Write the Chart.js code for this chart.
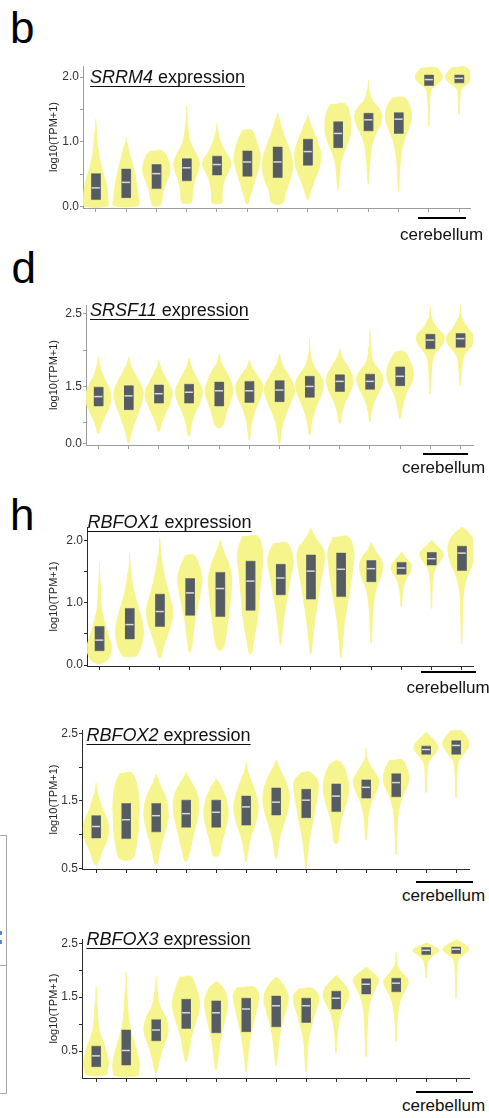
<!DOCTYPE html>
<html>
<head>
<meta charset="utf-8">
<title>Splicing regulator expression across tissues</title>
<script src="https://cdn.jsdelivr.net/npm/chart.js@4.4.1/dist/chart.umd.min.js"></script>
<style>
  html, body { margin: 0; padding: 0; background: #fff; }
  body { position: relative; width: 489px; height: 1118px; overflow: hidden;
         font-family: "Liberation Sans", Arial, sans-serif; color: #111; }
  .txt { position: absolute; white-space: nowrap; line-height: 1; }
  .letter { font-size: 44px; color: #000; }
  .gene-title { font-size: 18px; color: #111; text-decoration: underline;
                text-decoration-thickness: 1px; text-underline-offset: 3px;
                text-decoration-skip-ink: none; }
  .region { font-size: 17px; color: #111; }
  .bar { position: absolute; height: 2px; background: #000; }
  canvas { position: absolute; }
  .frame { position: absolute; border: 1px solid #a9a9a9; }
  .rule { position: absolute; height: 1px; background: #a9a9a9; }
  .dot { position: absolute; width: 3px; height: 4px; background: #4b87cf; border-radius: 1px; }
</style>
</head>
<body>
<script>
// ---------------------------------------------------------------
// Data: 13 tissue groups per gene (the last two are cerebellum).
// Box = interquartile range, line = median, violin = density
// outline given as [value, half-width in category units] knots
// from the top of the violin to its bottom.
// ---------------------------------------------------------------
const tissueGroups = ['T1','T2','T3','T4','T5','T6','T7','T8','T9','T10','T11','Cerebellum A','Cerebellum B'];

// SRRM4
const srrm4Q1     = [0.11, 0.14, 0.28, 0.40, 0.49, 0.47, 0.45, 0.64, 0.91, 1.17, 1.13, 1.87, 1.91];
const srrm4Median = [0.29, 0.375, 0.51, 0.60, 0.65, 0.69, 0.69, 0.85, 1.13, 1.34, 1.35, 1.96, 1.98];
const srrm4Q3     = [0.51, 0.58, 0.65, 0.74, 0.78, 0.86, 0.92, 1.04, 1.31, 1.44, 1.45, 2.03, 2.03];
const srrm4Violins = [
  [[1.35,0],[1.15,0.03],[0.95,0.06],[0.8,0.1],[0.63,0.18],[0.45,0.29],[0.3,0.37],[0.12,0.4],[0.01,0.38]],
  [[1.06,0],[0.95,0.05],[0.83,0.11],[0.68,0.2],[0.52,0.28],[0.32,0.36],[0.12,0.41],[0.02,0.4]],
  [[0.87,0],[0.86,0.2],[0.78,0.34],[0.62,0.44],[0.5,0.43],[0.38,0.33],[0.22,0.22],[0.08,0.17],[0.02,0.12]],
  [[1.56,0],[1.3,0.03],[1.1,0.07],[0.95,0.16],[0.83,0.3],[0.68,0.42],[0.55,0.38],[0.4,0.27],[0.25,0.2],[0.1,0.18],[0.06,0.14]],
  [[1.29,0],[1.15,0.04],[1.0,0.12],[0.85,0.27],[0.7,0.46],[0.6,0.44],[0.47,0.3],[0.32,0.2],[0.15,0.17],[0.06,0.16]],
  [[1.19,0],[1.18,0.15],[1.05,0.28],[0.9,0.38],[0.75,0.43],[0.6,0.38],[0.4,0.25],[0.2,0.12],[0.04,0]],
  [[1.45,0],[1.35,0.06],[1.2,0.15],[1.0,0.3],[0.8,0.45],[0.62,0.5],[0.42,0.42],[0.22,0.26],[0.06,0.18]],
  [[1.42,0],[1.3,0.08],[1.1,0.25],[0.9,0.4],[0.78,0.43],[0.6,0.38],[0.4,0.22],[0.2,0.07],[0.11,0]],
  [[1.59,0],[1.58,0.25],[1.45,0.38],[1.25,0.43],[1.1,0.4],[0.9,0.25],[0.7,0.1],[0.5,0.05],[0.27,0]],
  [[1.96,0],[1.8,0.03],[1.65,0.12],[1.52,0.35],[1.4,0.45],[1.25,0.38],[1.1,0.22],[0.9,0.1],[0.6,0.04],[0.35,0]],
  [[1.69,0],[1.68,0.2],[1.55,0.37],[1.4,0.43],[1.25,0.37],[1.05,0.2],[0.8,0.08],[0.5,0.03],[0.23,0]],
  [[2.15,0],[2.14,0.25],[2.06,0.4],[1.98,0.44],[1.9,0.3],[1.82,0.1],[1.7,0.04],[1.5,0.02],[1.24,0]],
  [[2.16,0],[2.15,0.22],[2.06,0.4],[1.98,0.44],[1.9,0.28],[1.82,0.08],[1.7,0.03],[1.42,0]]
];
const srrm4Ticks      = [0, 0.5, 1, 1.5, 2];
const srrm4TickLabels = ['0.0', '', '1.0', '', '2.0'];

// SRSF11
const srsf11Q1     = [1.23, 1.18, 1.27, 1.27, 1.23, 1.28, 1.29, 1.35, 1.43, 1.46, 1.51, 2.02, 2.04];
const srsf11Median = [1.36, 1.37, 1.40, 1.42, 1.44, 1.44, 1.45, 1.50, 1.57, 1.57, 1.64, 2.14, 2.16];
const srsf11Q3     = [1.49, 1.51, 1.52, 1.53, 1.56, 1.57, 1.58, 1.64, 1.66, 1.67, 1.77, 2.22, 2.23];
const srsf11Violins = [
  [[1.91,0],[1.78,0.05],[1.65,0.15],[1.5,0.33],[1.36,0.41],[1.22,0.36],[1.08,0.2],[0.95,0.08],[0.85,0]],
  [[1.91,0],[1.78,0.08],[1.62,0.28],[1.45,0.47],[1.3,0.45],[1.15,0.33],[1.0,0.2],[0.85,0.08],[0.71,0]],
  [[1.86,0],[1.75,0.07],[1.6,0.25],[1.43,0.44],[1.3,0.4],[1.15,0.25],[1.0,0.1],[0.88,0]],
  [[1.9,0],[1.75,0.1],[1.6,0.28],[1.45,0.44],[1.3,0.38],[1.15,0.22],[1.0,0.1],[0.81,0]],
  [[1.96,0],[1.82,0.08],[1.65,0.3],[1.45,0.46],[1.3,0.38],[1.15,0.25],[1.02,0.17],[0.95,0.1],[0.93,0]],
  [[1.87,0],[1.75,0.1],[1.6,0.35],[1.5,0.44],[1.35,0.38],[1.2,0.22],[1.0,0.08],[0.76,0]],
  [[1.95,0],[1.8,0.1],[1.62,0.35],[1.47,0.5],[1.3,0.4],[1.1,0.2],[0.9,0.07],[0.71,0]],
  [[2.16,0],[1.95,0.03],[1.8,0.12],[1.65,0.35],[1.54,0.46],[1.4,0.4],[1.2,0.2],[1.0,0.07],[0.83,0]],
  [[2.03,0],[1.9,0.08],[1.75,0.3],[1.6,0.44],[1.45,0.37],[1.3,0.2],[1.15,0.08],[0.99,0]],
  [[2.28,0],[2.05,0.03],[1.85,0.1],[1.7,0.35],[1.6,0.44],[1.47,0.35],[1.3,0.15],[1.15,0.05],[1.01,0]],
  [[1.99,0],[1.98,0.15],[1.85,0.33],[1.7,0.44],[1.55,0.38],[1.4,0.2],[1.2,0.07],[1.06,0]],
  [[2.6,0],[2.45,0.04],[2.32,0.2],[2.2,0.45],[2.1,0.42],[2.0,0.25],[1.9,0.1],[1.7,0.04],[1.4,0]],
  [[2.62,0],[2.45,0.05],[2.3,0.25],[2.18,0.46],[2.08,0.4],[2.0,0.25],[1.9,0.1],[1.7,0.04],[1.51,0]]
];
const srsf11Ticks      = [0.71, 1, 1.5, 2, 2.5];
const srsf11TickLabels = ['0.0', '', '1.5', '', '2.5'];

// RBFOX1
const rbfox1Q1     = [0.23, 0.42, 0.62, 0.80, 0.78, 0.88, 1.13, 1.06, 1.10, 1.34, 1.46, 1.61, 1.52];
const rbfox1Median = [0.40, 0.65, 0.86, 1.16, 1.23, 1.35, 1.40, 1.51, 1.54, 1.55, 1.56, 1.71, 1.80];
const rbfox1Q3     = [0.62, 0.91, 1.14, 1.39, 1.49, 1.67, 1.62, 1.77, 1.80, 1.68, 1.65, 1.81, 1.91];
const rbfox1Violins = [
  [[1.65,0],[1.3,0.03],[0.95,0.06],[0.75,0.14],[0.6,0.22],[0.42,0.34],[0.28,0.4],[0.12,0.33],[0.04,0.15],[0.02,0]],
  [[1.8,0],[1.5,0.04],[1.2,0.14],[0.95,0.28],[0.7,0.42],[0.5,0.46],[0.3,0.38],[0.17,0.26],[0.14,0.2]],
  [[2.05,0],[1.75,0.05],[1.45,0.15],[1.15,0.3],[0.9,0.43],[0.7,0.4],[0.5,0.27],[0.3,0.13],[0.11,0]],
  [[1.78,0],[1.76,0.15],[1.6,0.3],[1.4,0.4],[1.2,0.36],[0.95,0.26],[0.7,0.16],[0.45,0.1],[0.2,0]],
  [[2.01,0],[1.85,0.1],[1.6,0.3],[1.4,0.38],[1.1,0.35],[0.8,0.28],[0.5,0.2],[0.3,0.12],[0.24,0]],
  [[2.08,0],[2.07,0.25],[1.9,0.38],[1.72,0.42],[1.45,0.37],[1.1,0.3],[0.8,0.25],[0.5,0.15],[0.17,0]],
  [[1.97,0],[1.96,0.22],[1.8,0.38],[1.65,0.42],[1.45,0.35],[1.2,0.26],[0.9,0.15],[0.6,0.07],[0.33,0]],
  [[2.2,0],[2.05,0.15],[1.85,0.42],[1.65,0.44],[1.35,0.33],[1.0,0.22],[0.7,0.13],[0.4,0.06],[0.18,0]],
  [[2.07,0],[2.06,0.25],[1.85,0.42],[1.6,0.4],[1.3,0.32],[1.0,0.22],[0.7,0.12],[0.4,0.06],[0.12,0]],
  [[1.98,0],[1.85,0.12],[1.7,0.33],[1.55,0.38],[1.4,0.3],[1.2,0.15],[0.9,0.06],[0.6,0.03],[0.35,0]],
  [[1.82,0],[1.72,0.15],[1.6,0.33],[1.5,0.3],[1.38,0.15],[1.2,0.05],[0.94,0]],
  [[2.01,0],[1.92,0.17],[1.8,0.38],[1.68,0.3],[1.55,0.12],[1.35,0.04],[0.91,0]],
  [[2.22,0],[2.15,0.18],[2.0,0.4],[1.82,0.45],[1.62,0.35],[1.45,0.2],[1.2,0.07],[0.8,0.03],[0.34,0]]
];
const rbfox1Ticks      = [0, 0.5, 1, 1.5, 2];
const rbfox1TickLabels = ['0.0', '', '1.0', '', '2.0'];

// RBFOX2
const rbfox2Q1     = [0.95, 0.94, 1.04, 1.11, 1.11, 1.14, 1.29, 1.25, 1.34, 1.54, 1.56, 2.19, 2.19];
const rbfox2Median = [1.12, 1.22, 1.28, 1.31, 1.33, 1.41, 1.48, 1.51, 1.57, 1.70, 1.77, 2.26, 2.32];
const rbfox2Q3     = [1.28, 1.46, 1.46, 1.51, 1.51, 1.57, 1.69, 1.67, 1.75, 1.81, 1.90, 2.31, 2.39];
const rbfox2Violins = [
  [[1.77,0],[1.6,0.06],[1.4,0.2],[1.2,0.38],[1.05,0.42],[0.9,0.35],[0.75,0.2],[0.6,0.08],[0.55,0]],
  [[1.92,0],[1.91,0.2],[1.75,0.35],[1.5,0.43],[1.2,0.42],[0.95,0.38],[0.75,0.3],[0.64,0.2]],
  [[1.9,0],[1.75,0.12],[1.55,0.32],[1.35,0.4],[1.2,0.38],[1.0,0.27],[0.8,0.15],[0.55,0]],
  [[1.92,0],[1.8,0.15],[1.6,0.37],[1.4,0.42],[1.2,0.36],[1.0,0.25],[0.8,0.15],[0.6,0]],
  [[1.83,0],[1.72,0.15],[1.5,0.35],[1.3,0.4],[1.1,0.32],[0.9,0.2],[0.75,0.13],[0.69,0.1]],
  [[2.07,0],[1.9,0.08],[1.7,0.25],[1.5,0.38],[1.35,0.4],[1.15,0.3],[0.95,0.15],[0.75,0.06],[0.6,0]],
  [[2.11,0],[1.95,0.15],[1.75,0.35],[1.55,0.44],[1.35,0.38],[1.15,0.25],[0.95,0.12],[0.75,0.05],[0.64,0]],
  [[1.93,0],[1.92,0.15],[1.8,0.38],[1.65,0.4],[1.45,0.33],[1.2,0.23],[0.95,0.12],[0.7,0.05],[0.5,0]],
  [[2.1,0],[2.05,0.2],[1.88,0.36],[1.7,0.42],[1.5,0.36],[1.3,0.22],[1.1,0.12],[0.9,0.07],[0.86,0]],
  [[2.28,0],[2.1,0.05],[1.95,0.25],[1.8,0.42],[1.65,0.35],[1.5,0.2],[1.3,0.08],[1.1,0.04],[0.92,0]],
  [[2.11,0],[2.1,0.22],[1.95,0.38],[1.85,0.42],[1.7,0.36],[1.55,0.2],[1.3,0.07],[1.0,0.03],[0.7,0]],
  [[2.52,0],[2.45,0.15],[2.33,0.38],[2.25,0.38],[2.15,0.2],[2.05,0.07],[1.9,0.03],[1.62,0]],
  [[2.55,0],[2.54,0.15],[2.45,0.35],[2.33,0.44],[2.22,0.3],[2.1,0.1],[1.95,0.04],[1.54,0]]
];
const rbfox2Ticks      = [0.5, 1, 1.5, 2, 2.5];
const rbfox2TickLabels = ['0.5', '', '1.5', '', '2.5'];

// RBFOX3
const rbfox3Q1     = [0.21, 0.24, 0.69, 0.92, 0.84, 0.86, 0.95, 1.03, 1.28, 1.56, 1.60, 2.29, 2.31];
const rbfox3Median = [0.41, 0.51, 0.89, 1.21, 1.21, 1.28, 1.34, 1.34, 1.48, 1.74, 1.76, 2.37, 2.39];
const rbfox3Q3     = [0.59, 0.89, 1.08, 1.46, 1.43, 1.48, 1.52, 1.48, 1.61, 1.84, 1.85, 2.42, 2.43];
const rbfox3Violins = [
  [[1.71,0],[1.4,0.03],[1.1,0.06],[0.85,0.12],[0.65,0.25],[0.45,0.36],[0.3,0.41],[0.15,0.38],[0.06,0.33]],
  [[1.97,0],[1.6,0.03],[1.2,0.07],[0.9,0.15],[0.65,0.28],[0.45,0.38],[0.25,0.44],[0.1,0.42],[0.04,0.38]],
  [[1.88,0],[1.6,0.04],[1.35,0.12],[1.15,0.3],[0.95,0.4],[0.8,0.38],[0.6,0.25],[0.35,0.12],[0.09,0]],
  [[1.89,0],[1.88,0.18],[1.7,0.32],[1.45,0.44],[1.25,0.43],[1.0,0.3],[0.75,0.17],[0.5,0.09],[0.3,0]],
  [[1.79,0],[1.7,0.2],[1.5,0.36],[1.35,0.38],[1.1,0.3],[0.85,0.2],[0.55,0.1],[0.3,0.05],[0.15,0]],
  [[1.69,0],[1.68,0.3],[1.55,0.42],[1.4,0.4],[1.15,0.3],[0.9,0.2],[0.6,0.1],[0.3,0.04],[0.1,0]],
  [[1.88,0],[1.8,0.15],[1.6,0.36],[1.42,0.4],[1.2,0.3],[0.95,0.18],[0.7,0.1],[0.45,0.05],[0.23,0]],
  [[1.67,0],[1.66,0.22],[1.55,0.4],[1.42,0.42],[1.25,0.33],[1.0,0.2],[0.7,0.08],[0.4,0.04],[0.12,0]],
  [[1.91,0],[1.82,0.15],[1.65,0.38],[1.5,0.42],[1.35,0.3],[1.15,0.15],[0.9,0.06],[0.47,0]],
  [[2.06,0],[1.97,0.2],[1.83,0.42],[1.7,0.35],[1.5,0.18],[1.25,0.08],[0.9,0.04],[0.39,0]],
  [[2.34,0],[2.1,0.04],[1.95,0.2],[1.82,0.4],[1.68,0.35],[1.5,0.18],[1.25,0.07],[1.0,0.03],[0.67,0]],
  [[2.51,0],[2.46,0.2],[2.37,0.44],[2.28,0.25],[2.18,0.08],[2.05,0.03],[1.86,0]],
  [[2.57,0],[2.5,0.22],[2.39,0.44],[2.3,0.28],[2.2,0.08],[2.0,0.03],[1.48,0]]
];
const rbfox3Ticks      = [0.5, 1, 1.5, 2, 2.5];
const rbfox3TickLabels = ['0.5', '', '1.5', '', '2.5'];

// ---------------------------------------------------------------
// Page layout (pixels) and styling
// ---------------------------------------------------------------
const FONT = '"Liberation Sans", Arial, sans-serif';
const VIOLIN_FILL = '#f6f48c';
const BOX_FILL = '#565c64';
const MEDIAN_LINE = '#dadada';
const CANVAS_LEFT = 47;
const PAGE_WIDTH = 489;
const PAD_TOP = 10, PAD_BOTTOM = 6, XAXIS_H = 6;
const BOX_HALF = 0.15, MEDIAN_HALF = 0.135;

const panels = [
  { gene: 'SRRM4', q1: srrm4Q1, med: srrm4Median, q3: srrm4Q3, violins: srrm4Violins,
    ticks: srrm4Ticks, tickLabels: srrm4TickLabels, yMin: -0.02, yMax: 2.17, xMin: -0.42, xMax: 12.36,
    area: { left: 83, right: 470, top: 66, bottom: 208 }, axisColor: '#9c9c9c',
    letter: { text: 'b', left: 10, baseline: 43 },
    title: { left: 90, baseline: 83 }, bar: { left: 418, right: 466, top: 217 },
    region: { left: 400, baseline: 240 } },
  { gene: 'SRSF11', q1: srsf11Q1, med: srsf11Median, q3: srsf11Q3, violins: srsf11Violins,
    ticks: srsf11Ticks, tickLabels: srsf11TickLabels, yMin: 0.692, yMax: 2.624, xMin: -0.41, xMax: 12.42,
    area: { left: 86, right: 473, top: 305, bottom: 445 }, axisColor: '#9c9c9c',
    letter: { text: 'd', left: 11.5, baseline: 283.5 },
    title: { left: 90, baseline: 316.5 }, bar: { left: 423, right: 468, top: 453 },
    region: { left: 402, baseline: 473.5 } },
  { gene: 'RBFOX1', q1: rbfox1Q1, med: rbfox1Median, q3: rbfox1Q3, violins: rbfox1Violins,
    ticks: rbfox1Ticks, tickLabels: rbfox1TickLabels, yMin: -0.016, yMax: 2.22, xMin: -0.407, xMax: 12.374,
    area: { left: 87, right: 473, top: 527, bottom: 666 }, axisColor: '#2a2a2a',
    letter: { text: 'h', left: 10, baseline: 530.5 },
    title: { left: 87.5, baseline: 528.5 }, bar: { left: 421, right: 476, top: 671 },
    region: { left: 406.5, baseline: 693.5 } },
  { gene: 'RBFOX2', q1: rbfox2Q1, med: rbfox2Median, q3: rbfox2Q3, violins: rbfox2Violins,
    ticks: rbfox2Ticks, tickLabels: rbfox2TickLabels, yMin: 0.49, yMax: 2.549, xMin: -0.467, xMax: 12.433,
    area: { left: 82, right: 469, top: 730, bottom: 869 }, axisColor: '#2a2a2a',
    letter: null,
    title: { left: 86.5, baseline: 741.7 }, bar: { left: 416, right: 473, top: 880.7 },
    region: { left: 402, baseline: 901 } },
  { gene: 'RBFOX3', q1: rbfox3Q1, med: rbfox3Median, q3: rbfox3Q3, violins: rbfox3Violins,
    ticks: rbfox3Ticks, tickLabels: rbfox3TickLabels, yMin: -0.001, yMax: 2.58, xMin: -0.467, xMax: 12.433,
    area: { left: 82, right: 469, top: 939, bottom: 1078 }, axisColor: '#2a2a2a',
    letter: null,
    title: { left: 86.5, baseline: 945.7 }, bar: { left: 416, right: 473, top: 1091 },
    region: { left: 402, baseline: 1111 } }
];

// ---------------------------------------------------------------
// Helpers
// ---------------------------------------------------------------
function addText(cls, html, left, baseline, size) {
  const el = document.createElement('div');
  el.className = 'txt ' + cls;
  el.innerHTML = html;
  el.style.left = left + 'px';
  el.style.top = (baseline - 0.8465 * size) + 'px';
  document.body.appendChild(el);
  return el;
}

function violinOutline(center, knots) {
  const right = knots.map(([v, w]) => ({ x: center + w, y: v }));
  const left = knots.slice().reverse().map(([v, w]) => ({ x: center - w, y: v }));
  if (knots[knots.length - 1][1] === 0) left.shift();
  if (knots[0][1] === 0) left.pop();
  return right.concat(left);
}

function boxOutline(center, q1, q3) {
  return [
    { x: center - BOX_HALF, y: q3 }, { x: center + BOX_HALF, y: q3 },
    { x: center + BOX_HALF, y: q1 }, { x: center - BOX_HALF, y: q1 }
  ];
}

Chart.defaults.font.family = FONT;

function drawPanel(p) {
  const top = p.area.top - PAD_TOP;
  const height = (p.area.bottom - p.area.top) + PAD_TOP + XAXIS_H + PAD_BOTTOM;
  const canvas = document.createElement('canvas');
  canvas.width = PAGE_WIDTH - CANVAS_LEFT;
  canvas.height = height;
  canvas.style.left = CANVAS_LEFT + 'px';
  canvas.style.top = top + 'px';
  document.body.appendChild(canvas);

  const datasets = [];
  p.violins.forEach((knots, i) => {
    datasets.push({ label: tissueGroups[i] + ' density', data: violinOutline(i, knots),
      showLine: true, fill: 'shape', tension: 0.4, backgroundColor: VIOLIN_FILL,
      borderColor: VIOLIN_FILL, borderWidth: 1, pointRadius: 0, order: 3 });
    datasets.push({ label: tissueGroups[i] + ' IQR', data: boxOutline(i, p.q1[i], p.q3[i]),
      showLine: true, fill: 'shape', tension: 0, backgroundColor: BOX_FILL,
      borderColor: BOX_FILL, borderWidth: 0.5, pointRadius: 0, order: 2 });
    datasets.push({ label: tissueGroups[i] + ' median',
      data: [{ x: i - MEDIAN_HALF, y: p.med[i] }, { x: i + MEDIAN_HALF, y: p.med[i] }],
      showLine: true, fill: false, borderColor: MEDIAN_LINE, borderWidth: 1.5,
      pointRadius: 0, order: 1 });
  });

  const yAxisWidth = p.area.left - CANVAS_LEFT;
  new Chart(canvas, {
    type: 'scatter',
    data: { datasets },
    options: {
      responsive: false, animation: false, devicePixelRatio: 1, events: [],
      layout: { padding: { top: PAD_TOP, bottom: PAD_BOTTOM, left: 0, right: PAGE_WIDTH - p.area.right } },
      plugins: { legend: { display: false }, tooltip: { enabled: false } },
      scales: {
        x: {
          type: 'linear', min: p.xMin, max: p.xMax,
          afterBuildTicks: (s) => { s.ticks = tissueGroups.map((_, i) => ({ value: i })); },
          afterFit: (s) => { s.height = XAXIS_H; },
          ticks: { display: false },
          grid: { drawOnChartArea: false, drawTicks: true, tickLength: 4, color: p.axisColor, lineWidth: 1 },
          border: { display: true, color: p.axisColor, width: 1 }
        },
        y: {
          type: 'linear', min: p.yMin, max: p.yMax,
          afterBuildTicks: (s) => { s.ticks = p.ticks.map((v) => ({ value: v })); },
          afterFit: (s) => { s.width = yAxisWidth; },
          ticks: { callback: (v, i) => p.tickLabels[i], autoSkip: false, padding: 1,
                   color: '#333', font: { size: 12, family: FONT } },
          grid: { drawOnChartArea: false, drawTicks: true, tickLength: 3, color: p.axisColor, lineWidth: 1 },
          border: { display: true, color: p.axisColor, width: 1 },
          title: { display: true, text: 'log10(TPM+1)', color: '#222',
                   font: { size: 11, family: FONT }, padding: { top: 0, bottom: 0 } }
        }
      }
    }
  });

  if (p.letter) addText('letter', p.letter.text, p.letter.left, p.letter.baseline, 44);
  addText('gene-title', '<i>' + p.gene + '</i> expression', p.title.left, p.title.baseline, 18);
  const bar = document.createElement('div');
  bar.className = 'bar';
  bar.style.left = p.bar.left + 'px';
  bar.style.width = (p.bar.right - p.bar.left) + 'px';
  bar.style.top = p.bar.top + 'px';
  document.body.appendChild(bar);
  addText('region', 'cerebellum', p.region.left, p.region.baseline, 17);
}

panels.forEach(drawPanel);

// Edge of the neighbouring figure panel on the left margin
(function () {
  const frame = document.createElement('div');
  frame.className = 'frame';
  Object.assign(frame.style, { left: '-2px', top: '835px', width: '7px', height: '257px' });
  document.body.appendChild(frame);
  const rule = document.createElement('div');
  rule.className = 'rule';
  Object.assign(rule.style, { left: '0px', top: '965px', width: '7px' });
  document.body.appendChild(rule);
  [931, 940].forEach((y) => {
    const d = document.createElement('div');
    d.className = 'dot';
    d.style.left = '-1px';
    d.style.top = y + 'px';
    document.body.appendChild(d);
  });
})();
</script>
</body>
</html>
